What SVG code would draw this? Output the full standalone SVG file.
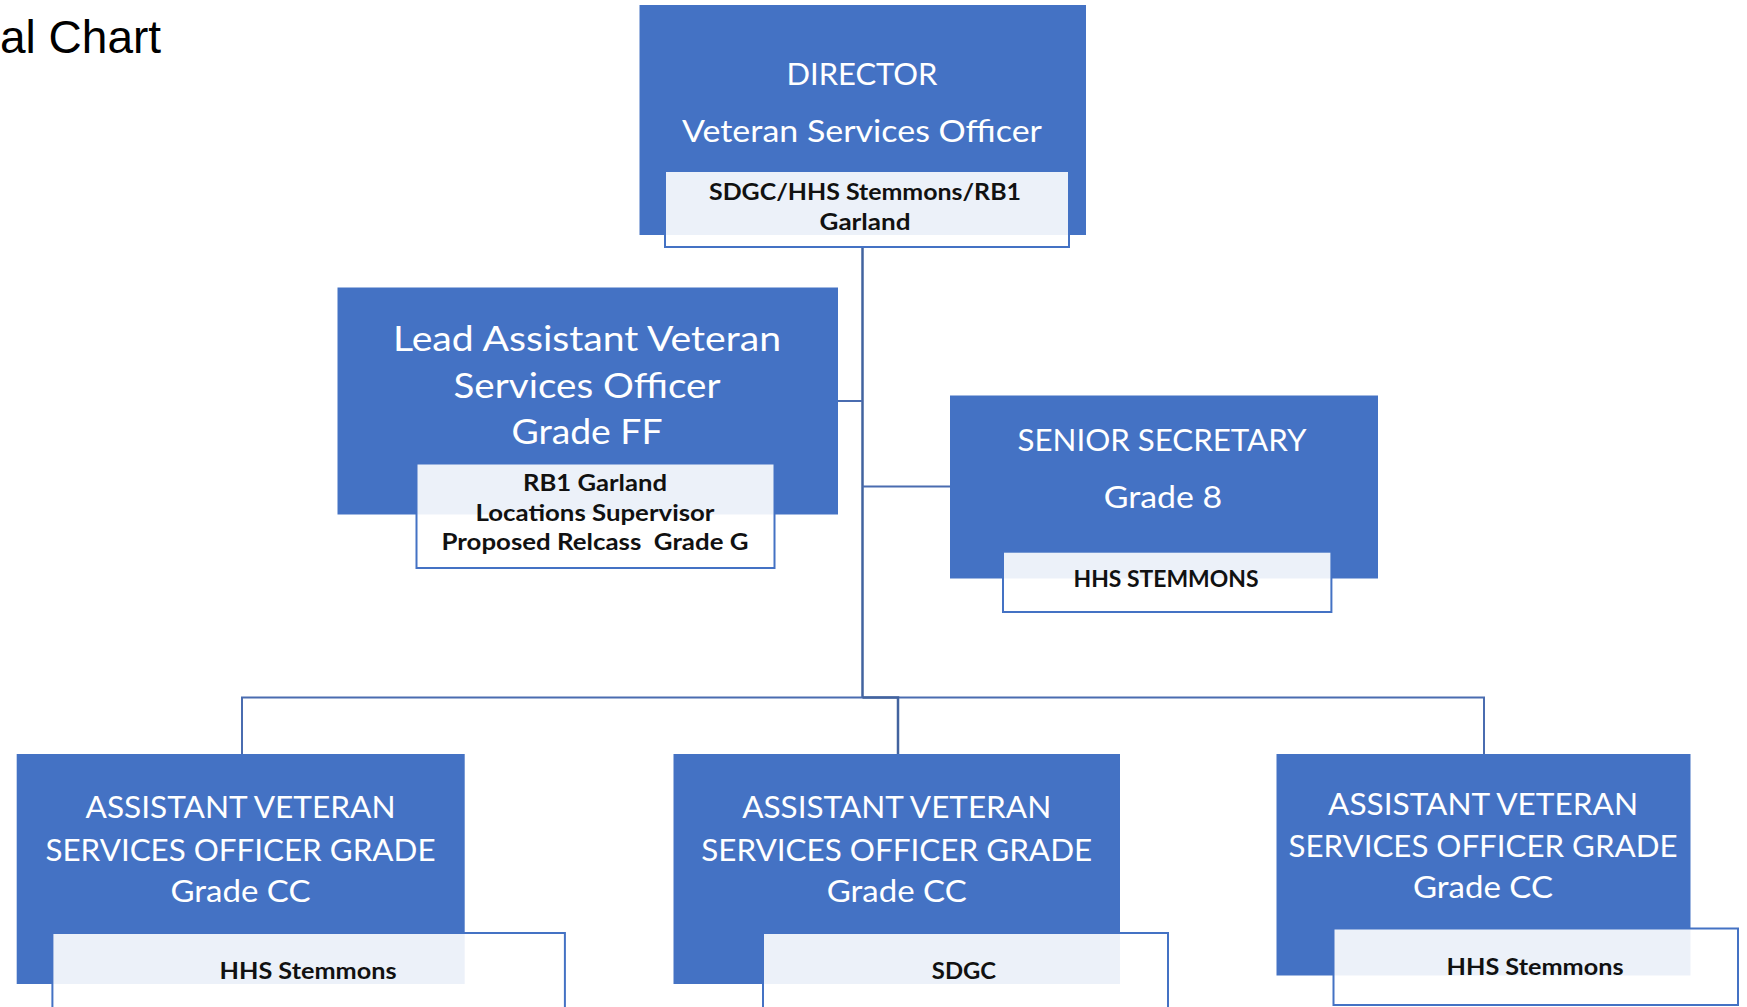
<svg xmlns="http://www.w3.org/2000/svg" width="1747" height="1007" viewBox="0 0 1747 1007">
<style>
.box{fill:#4472C4;}
.tag{fill:#ffffff;fill-opacity:0.9;stroke:#4472C4;stroke-width:2;}
.t{font-family:Lato,"Open Sans","Liberation Sans",sans-serif;fill:#ffffff;text-anchor:middle;}
.b{font-family:Lato,"Open Sans","Liberation Sans",sans-serif;font-weight:bold;fill:#111111;text-anchor:middle;}
.ln{fill:none;stroke:#4A6CB0;stroke-width:2;}
.trunk{fill:none;stroke:#42639F;stroke-width:2.5;}
.title{font-family:"Liberation Sans",Arial,sans-serif;font-size:46px;fill:#000000;}
</style>
<rect width="1747" height="1007" fill="#ffffff"/>
<text class="title" x="0" y="53">al Chart</text>
<g id="connectors">
<path class="trunk" d="M862.5,247 V697.5"/>
<path class="ln" d="M838,401 H862.5"/>
<path class="ln" d="M862.5,486.5 H950"/>
<path class="ln" d="M242,754 V697.5 H1484 V754"/>
<path class="trunk" d="M862.5,697.5 H898 V754"/>
</g>
<g id="director">
<rect class="box" x="639.5" y="5" width="446.5" height="230"/>
<text class="t" x="862" y="85" font-size="31" textLength="151" lengthAdjust="spacingAndGlyphs">DIRECTOR</text>
<text class="t" x="862" y="142" font-size="31" textLength="360" lengthAdjust="spacingAndGlyphs">Veteran Services Officer</text>
<rect class="tag" x="665" y="171" width="404" height="76"/>
<text class="b" x="865" y="200" font-size="23" textLength="312" lengthAdjust="spacingAndGlyphs">SDGC/HHS Stemmons/RB1</text>
<text class="b" x="865" y="230" font-size="23" textLength="91" lengthAdjust="spacingAndGlyphs">Garland</text>
</g>
<g id="lead">
<rect class="box" x="337.5" y="287.5" width="500.5" height="227"/>
<text class="t" x="587" y="351" font-size="35" textLength="388" lengthAdjust="spacingAndGlyphs">Lead Assistant Veteran</text>
<text class="t" x="587" y="397.5" font-size="35" textLength="267" lengthAdjust="spacingAndGlyphs">Services Officer</text>
<text class="t" x="587" y="444" font-size="35" textLength="151" lengthAdjust="spacingAndGlyphs">Grade FF</text>
<rect class="tag" x="416.5" y="463.5" width="358" height="104.5"/>
<text class="b" x="595" y="490.7" font-size="23" textLength="144" lengthAdjust="spacingAndGlyphs">RB1 Garland</text>
<text class="b" x="595" y="520.7" font-size="23" textLength="239" lengthAdjust="spacingAndGlyphs">Locations Supervisor</text>
<text class="b" x="595" y="550" font-size="23" textLength="307" lengthAdjust="spacingAndGlyphs" style="white-space:pre">Proposed Relcass  Grade G</text>
</g>
<g id="senior">
<rect class="box" x="950" y="395.5" width="428" height="183"/>
<text class="t" x="1162" y="451" font-size="31" textLength="289" lengthAdjust="spacingAndGlyphs">SENIOR SECRETARY</text>
<text class="t" x="1163" y="508.3" font-size="31" textLength="118.6" lengthAdjust="spacingAndGlyphs">Grade 8</text>
<rect class="tag" x="1003" y="551.7" width="328.4" height="60.3"/>
<text class="b" x="1166" y="586.7" font-size="23" textLength="185" lengthAdjust="spacingAndGlyphs">HHS STEMMONS</text>
</g>
<g id="asst1">
<rect class="box" x="16.7" y="754" width="448" height="230"/>
<text class="t" x="240.5" y="818.3" font-size="30" textLength="310" lengthAdjust="spacingAndGlyphs">ASSISTANT VETERAN</text>
<text class="t" x="240.5" y="861" font-size="30" textLength="390" lengthAdjust="spacingAndGlyphs">SERVICES OFFICER GRADE</text>
<text class="t" x="240.5" y="901.7" font-size="30" textLength="140" lengthAdjust="spacingAndGlyphs">Grade CC</text>
<rect class="tag" x="52.4" y="933" width="512.5" height="90"/>
<text class="b" x="308" y="979" font-size="23" textLength="177" lengthAdjust="spacingAndGlyphs">HHS Stemmons</text>
</g>
<g id="asst2">
<rect class="box" x="673.5" y="754" width="446.5" height="230"/>
<text class="t" x="896.7" y="818.3" font-size="30" textLength="309" lengthAdjust="spacingAndGlyphs">ASSISTANT VETERAN</text>
<text class="t" x="896.7" y="861" font-size="30" textLength="391" lengthAdjust="spacingAndGlyphs">SERVICES OFFICER GRADE</text>
<text class="t" x="896.7" y="901.7" font-size="30" textLength="140" lengthAdjust="spacingAndGlyphs">Grade CC</text>
<rect class="tag" x="763" y="933" width="405" height="90"/>
<text class="b" x="964" y="979" font-size="23" textLength="64.3" lengthAdjust="spacingAndGlyphs">SDGC</text>
</g>
<g id="asst3">
<rect class="box" x="1276.5" y="754" width="414" height="221.5"/>
<text class="t" x="1483" y="815" font-size="30" textLength="310" lengthAdjust="spacingAndGlyphs">ASSISTANT VETERAN</text>
<text class="t" x="1483" y="856.7" font-size="30" textLength="389" lengthAdjust="spacingAndGlyphs">SERVICES OFFICER GRADE</text>
<text class="t" x="1483" y="898.3" font-size="30" textLength="140" lengthAdjust="spacingAndGlyphs">Grade CC</text>
<rect class="tag" x="1333.5" y="928.5" width="404.5" height="76.5"/>
<text class="b" x="1535" y="975" font-size="23" textLength="177" lengthAdjust="spacingAndGlyphs">HHS Stemmons</text>
</g>
</svg>
